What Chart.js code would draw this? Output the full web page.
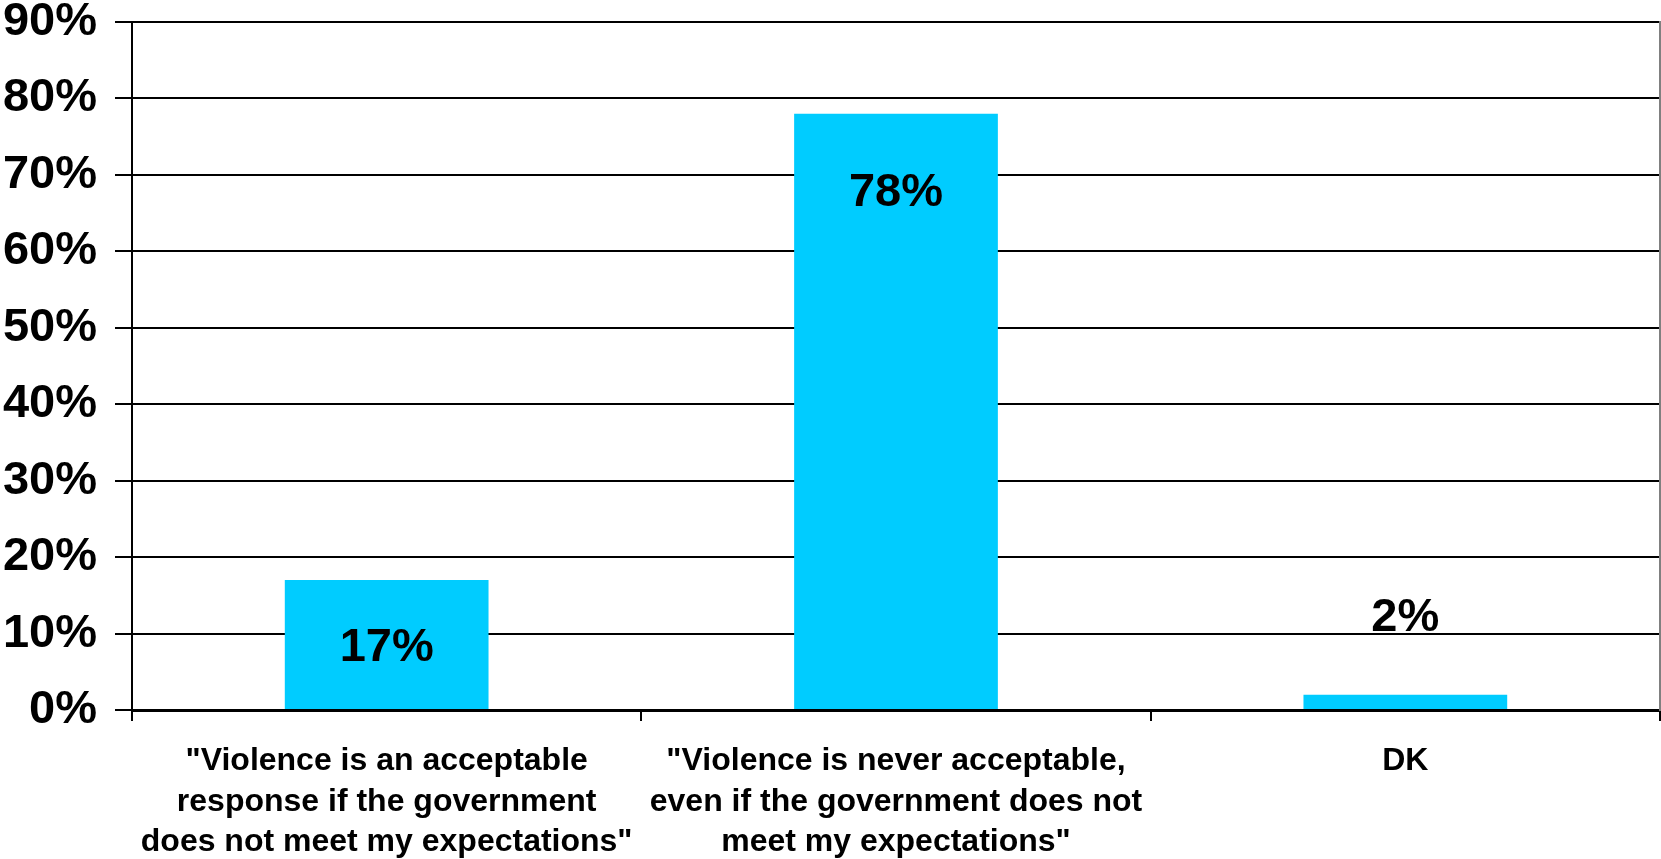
<!DOCTYPE html>
<html>
<head>
<meta charset="utf-8">
<title>Violence acceptable?</title>
<script src="https://cdn.jsdelivr.net/npm/chart.js"></script>
<style>
  html, body { margin:0; padding:0; background:#fff; }
  #wrap { width:1661px; height:859px; }
</style>
</head>
<body>
<div id="wrap"><canvas id="chart" width="1661" height="859"></canvas></div>
<script>
// categories, values, ticks
const categories = [
  ['"Violence is an acceptable', 'response if the government', 'does not meet my expectations"'],
  ['"Violence is never acceptable,', 'even if the government does not', 'meet my expectations"'],
  ['DK']
];
const values = [17, 78, 2];
const valueLabels = ['17%', '78%', '2%'];
const yTicks = [0, 10, 20, 30, 40, 50, 60, 70, 80, 90];

const FONT = '"Liberation Sans", Arial, sans-serif';

// labels sit where the original put them (in value units on the y scale)
const labelAnchor = [8.1, 67.6, 12];

const barLabels = {
  id:'barLabels',
  afterDatasetsDraw(chart){
    const ctx = chart.ctx, y = chart.scales.y;
    const meta = chart.getDatasetMeta(0);
    ctx.save();
    ctx.font = 'bold 47px ' + FONT;
    ctx.fillStyle = '#000';
    ctx.textAlign = 'center';
    ctx.textBaseline = 'middle';
    meta.data.forEach((bar, i)=>{
      ctx.fillText(valueLabels[i], bar.x, y.getPixelForValue(labelAnchor[i]));
    });
    ctx.restore();
  }
};

new Chart(document.getElementById('chart').getContext('2d'), {
  type:'bar',
  data:{
    labels:categories,
    datasets:[{ data:values, backgroundColor:'#00CCFF', borderWidth:0,
      barPercentage:0.4, categoryPercentage:1 }]
  },
  options:{
    responsive:false,
    animation:false,
    events:[],
    layout:{ padding:{ left:3, top:22, right:1, bottom:0 } },
    plugins:{ legend:{display:false}, tooltip:{enabled:false} },
    scales:{
      x:{
        afterFit(axis){ axis.height = 149; axis.paddingLeft = 0; axis.paddingRight = 0; },
        grid:{ offset:true, drawOnChartArea:false, drawTicks:true, tickLength:11, color:'#000', lineWidth:2 },
        border:{ display:true, color:'#000', width:3 },
        ticks:{ color:'#000', font:{ family:FONT, size:32, weight:'bold', lineHeight:1.27 }, padding:20, maxRotation:0, autoSkip:false }
      },
      y:{
        min:0, max:90,
        afterBuildTicks(axis){ axis.ticks = yTicks.map(v=>({value:v})); },
        afterFit(axis){ axis.width = 129; axis.paddingTop = 0; axis.paddingBottom = 0; },
        grid:{ color:'#000', lineWidth:2, tickLength:17 },
        border:{ display:true, color:'#000', width:2 },
        ticks:{ color:'#000', font:{ family:FONT, size:47, weight:'bold' }, padding:18, callback:v=>v+'%' }
      },
      yRight:{
        position:'right', min:0, max:90,
        afterFit(axis){ axis.width = 0; axis.paddingTop = 0; axis.paddingBottom = 0; },
        grid:{ display:false },
        border:{ display:true, color:'#808080', width:2 },
        ticks:{ display:false }
      }
    }
  },
  plugins:[barLabels]
});
</script>
</body>
</html>
